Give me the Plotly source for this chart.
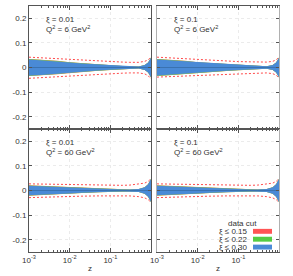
import plotly.graph_objects as go

# ---------------- data ----------------
z = [0.001, 0.002, 0.005, 0.01, 0.02, 0.05, 0.1, 0.2, 0.3, 0.5, 0.7, 0.85, 1.0]

# panel order: (xi=0.01,Q2=6), (xi=0.1,Q2=6), (xi=0.01,Q2=60), (xi=0.1,Q2=60)
panel_xi = ["0.01", "0.1", "0.01", "0.1"]
panel_q2 = ["6", "6", "60", "60"]

# half-width of the xi<=0.30 (blue) band
blue_p1 = [0.033, 0.030, 0.025, 0.020, 0.016, 0.012, 0.009, 0.006, 0.005, 0.004, 0.010, 0.020, 0.040]
blue_p2 = [0.033, 0.030, 0.025, 0.020, 0.017, 0.013, 0.010, 0.007, 0.006, 0.005, 0.010, 0.020, 0.040]
blue_p3 = [0.019, 0.017, 0.014, 0.012, 0.009, 0.006, 0.005, 0.004, 0.004, 0.006, 0.013, 0.025, 0.047]
blue_p4 = [0.019, 0.017, 0.014, 0.012, 0.009, 0.006, 0.005, 0.004, 0.004, 0.006, 0.013, 0.025, 0.047]
# extra width of the green (xi<=0.22) and red (xi<=0.15) bands
green_extra = [0.0015, 0.0015, 0.0015, 0.001, 0.001, 0.001, 0.001, 0.0005, 0.0005, 0.0005, 0.0005, 0.0005, 0.0005]
red_extra = [0.002, 0.002, 0.002, 0.0015, 0.0015, 0.001, 0.001, 0.0005, 0.0005, 0.0005, 0.0005, 0.0005, 0.0005]

# dashed red curves (upper / lower)
dash_up_p1 = [0.042, 0.039, 0.035, 0.032, 0.029, 0.026, 0.024, 0.022, 0.021, 0.021, 0.025, 0.031, 0.043]
dash_lo_p1 = [-0.044, -0.041, -0.037, -0.033, -0.030, -0.027, -0.025, -0.023, -0.022, -0.022, -0.026, -0.033, -0.047]
dash_up_p2 = [0.042, 0.039, 0.036, 0.033, 0.030, 0.027, 0.024, 0.023, 0.022, 0.022, 0.025, 0.031, 0.043]
dash_lo_p2 = [-0.039, -0.037, -0.035, -0.033, -0.030, -0.027, -0.024, -0.023, -0.022, -0.022, -0.025, -0.031, -0.043]
dash_up_p3 = [0.027, 0.026, 0.024, 0.023, 0.022, 0.021, 0.021, 0.021, 0.022, 0.025, 0.030, 0.037, 0.048]
dash_lo_p3 = [-0.029, -0.027, -0.025, -0.024, -0.023, -0.022, -0.021, -0.021, -0.022, -0.025, -0.030, -0.037, -0.048]
dash_up_p4 = [0.027, 0.026, 0.024, 0.023, 0.022, 0.021, 0.021, 0.021, 0.022, 0.025, 0.030, 0.037, 0.048]
dash_lo_p4 = [-0.029, -0.027, -0.025, -0.024, -0.023, -0.022, -0.021, -0.021, -0.022, -0.025, -0.030, -0.037, -0.048]

blues = [blue_p1, blue_p2, blue_p3, blue_p4]
dash_up = [dash_up_p1, dash_up_p2, dash_up_p3, dash_up_p4]
dash_lo = [dash_lo_p1, dash_lo_p2, dash_lo_p3, dash_lo_p4]

legend_labels = ["ξ ≤ 0.15", "ξ ≤ 0.22", "ξ ≤ 0.30"]
legend_colors = ["#ff5555", "#55cc44", "#4a8ad6"]

xticks_major = [0.001, 0.01, 0.1]
xticks_text = ["10<sup>-3</sup>", "10<sup>-2</sup>", "10<sup>-1</sup>"]
xticks_minor = [0.002, 0.003, 0.004, 0.005, 0.006, 0.007, 0.008, 0.009,
                0.02, 0.03, 0.04, 0.05, 0.06, 0.07, 0.08, 0.09,
                0.2, 0.3, 0.4, 0.5, 0.6, 0.7, 0.8, 0.9]
yticks = [-0.2, -0.1, 0, 0.1, 0.2]
ytext = ["-0.2", "-0.1", "0", "0.1", "0.2"]

# ---------------- figure ----------------
W, H = 293, 276
ML, MR, MT, MB = 29, 14, 5, 21
PW, PH = W - ML - MR, H - MT - MB

fig = go.Figure()

FONT = "Liberation Sans, Arial, sans-serif"
DARK = "#555555"
LIGHT = "#b0b0b0"
GRID = "#ebebeb"

xdoms = [[0, 122 / PW], [128 / PW, 1]]
ydoms = [[0.5, 1], [0, 0.5]]

for i in range(4):
    r, c = divmod(i, 2)
    xa = "x" if i == 0 else f"x{i+1}"
    ya = "y" if i == 0 else f"y{i+1}"
    b = blues[i]
    g = [bb + e for bb, e in zip(b, green_extra)]
    rd = [bb + e for bb, e in zip(b, red_extra)]
    zz = z + z[::-1]
    for half, col in [(rd, "#d9884a"), (g, "#7fbf5a"), (b, "#4a8ad6")]:
        fig.add_trace(go.Scatter(
            x=zz, y=half + [-v for v in half[::-1]], fill="toself",
            fillcolor=col, line=dict(width=0), mode="lines",
            xaxis=xa, yaxis=ya, showlegend=False, hoverinfo="skip"))
    fig.add_trace(go.Scatter(x=z, y=[0] * len(z), mode="lines",
                             line=dict(color="#3a72b0", width=1),
                             xaxis=xa, yaxis=ya, showlegend=False))
    for curve in (dash_up[i], dash_lo[i]):
        fig.add_trace(go.Scatter(x=z, y=curve, mode="lines",
                                 line=dict(color="#ff4a4a", width=1, dash="2px,2px"),
                                 xaxis=xa, yaxis=ya, showlegend=False))

    xkey = "xaxis" if i == 0 else f"xaxis{i+1}"
    ykey = "yaxis" if i == 0 else f"yaxis{i+1}"
    fig.layout[xkey] = dict(
        type="log", range=[-3, 0], domain=xdoms[c], anchor=ya,
        tickmode="array", tickvals=xticks_major, ticktext=xticks_text,
        showticklabels=(r == 1),
        ticks="inside", ticklen=4, tickcolor=DARK,
        minor=dict(tickmode="array", tickvals=xticks_minor, ticks="inside",
                   ticklen=2, tickcolor=DARK, showgrid=False),
        showgrid=True, gridcolor=GRID, griddash="dot", gridwidth=1,
        showline=True, linecolor=DARK, linewidth=1, mirror="allticks",
        zeroline=False, tickfont=dict(size=8, color="#333", family=FONT),
    )
    if r == 1:
        fig.layout[xkey].title = dict(text="z", font=dict(size=8, color="#333", family=FONT), standoff=1)
    fig.layout[ykey] = dict(
        range=[-0.25, 0.25], domain=ydoms[r], anchor=xa,
        tickmode="array", tickvals=yticks, ticktext=ytext,
        showticklabels=(c == 0),
        ticks="inside", ticklen=3, tickcolor=DARK,
        showgrid=True, gridcolor=GRID, griddash="dot", gridwidth=1,
        showline=True, linecolor=DARK if c == 0 else LIGHT, linewidth=1, mirror="allticks",
        zeroline=False, tickfont=dict(size=8, color="#333", family=FONT),
    )

    # panel annotation
    x0 = xdoms[c][0] + 15 / PW
    y0 = ydoms[r][1] - 7 / PH
    fig.add_annotation(
        x=x0, y=y0, xref="paper", yref="paper", xanchor="left", yanchor="top",
        align="left", showarrow=False,
        text=f"ξ = {panel_xi[i]}<br>Q<sup>2</sup> = {panel_q2[i]} GeV<sup>2</sup>",
        font=dict(size=8, color="#333", family=FONT))

# legend (manual)
def px2paper(px, py):
    return (px - ML) / PW, (H - MB - py) / PH

lx, ly = px2paper(242, 226)
fig.add_annotation(x=lx, y=ly, xref="paper", yref="paper", showarrow=False,
                   text="data cut", font=dict(size=8, color="#333", family=FONT),
                   xanchor="center", yanchor="middle")
rows_y = [234, 242, 250]
for lab, col, py in zip(legend_labels, legend_colors, rows_y):
    tx, ty = px2paper(250, py)
    fig.add_annotation(x=tx, y=ty, xref="paper", yref="paper", showarrow=False,
                       text=lab, font=dict(size=8, color="#333", family=FONT),
                       xanchor="right", yanchor="middle")
    sx0, sy0 = px2paper(253, py + 2.5)
    sx1, sy1 = px2paper(272, py - 2.5)
    fig.add_shape(type="rect", xref="paper", yref="paper", x0=sx0, x1=sx1, y0=sy0, y1=sy1,
                  fillcolor=col, line=dict(width=0))

fig.update_layout(
    width=W, height=H, margin=dict(l=ML, r=MR, t=MT, b=MB, pad=0),
    paper_bgcolor="white", plot_bgcolor="white", showlegend=False,
    font=dict(family=FONT, size=8, color="#333"),
)

fig.write_html("out.html", config={"displayModeBar": False},
               post_script="document.body.style.margin='0';document.body.style.overflow='hidden';")
